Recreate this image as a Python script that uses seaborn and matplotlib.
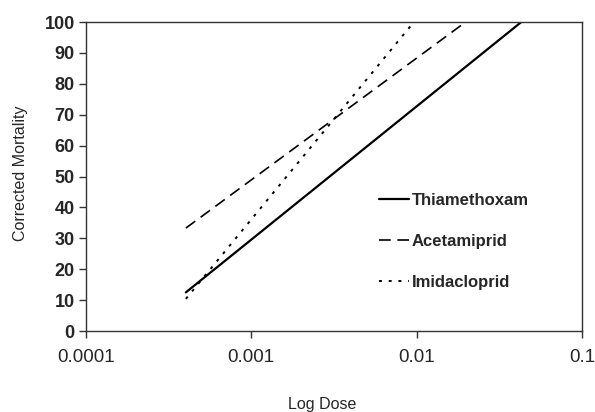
import matplotlib
matplotlib.use("Agg")
import matplotlib.pyplot as plt
import seaborn as sns
import pandas as pd

series = ["Thiamethoxam", "Acetamiprid", "Imidacloprid"]
dose_start = [0.000402, 0.000402, 0.000402]
dose_end = [0.043, 0.0198, 0.0093]
mort_start = [12.5, 33.3, 10.4]
mort_end = [100, 100, 99]
xticks = [0.0001, 0.001, 0.01, 0.1]
xticklabels = ["0.0001", "0.001", "0.01", "0.1"]
yticks = list(range(0, 101, 10))

rows = []
for s, d0, d1, m0, m1 in zip(series, dose_start, dose_end, mort_start, mort_end):
    rows.append({"Series": s, "Dose": d0, "Mortality": m0})
    rows.append({"Series": s, "Dose": d1, "Mortality": m1})
df = pd.DataFrame(rows)

sns.set_style("ticks")
plt.rcParams["font.family"] = ["Liberation Sans", "DejaVu Sans"]

fig = plt.figure(figsize=(5.95, 4.12), dpi=100)
ax = fig.add_axes([0.1445, 0.1966, 0.8335, 0.75])

styles = {
    "Thiamethoxam": dict(lw=1.6, ls="-"),
    "Acetamiprid": dict(lw=1.2, ls=(0, (7, 4))),
    "Imidacloprid": dict(lw=1.4, ls=(0, (1.5, 3.5))),
}
for s in series:
    sub = df[df["Series"] == s]
    sns.lineplot(data=sub, x="Dose", y="Mortality", ax=ax, color="black",
                 linewidth=styles[s]["lw"], linestyle=styles[s]["ls"], label=s)

ax.set_xscale("log")
ax.set_xlim(0.0001, 0.1)
ax.set_ylim(0, 100)
ax.set_xticks(xticks)
ax.set_xticklabels(xticklabels)
ax.xaxis.set_minor_locator(matplotlib.ticker.NullLocator())
ax.set_yticks(yticks)
for lab in ax.get_yticklabels():
    lab.set_fontweight("bold")
    lab.set_fontsize(13)
for lab in ax.get_xticklabels():
    lab.set_fontsize(13.5)
ax.tick_params(axis="both", length=5, width=1, color="#333333", pad=3)
ax.tick_params(axis="x", pad=8)
for sp in ax.spines.values():
    sp.set_visible(True)
    sp.set_linewidth(1.0)
    sp.set_color("#333333")

ax.set_xlabel("Log Dose", fontsize=11.5)
ax.xaxis.set_label_coords(0.476, -0.215)
ax.set_ylabel("Corrected Mortality", fontsize=11.5)
ax.yaxis.set_label_coords(-0.117, 0.51)

leg = ax.legend(loc="center left", bbox_to_anchor=(0.56, 0.29), frameon=False,
                handlelength=1.8, handletextpad=0.2, labelspacing=1.55,
                prop={"weight": "bold", "size": 12})

fig.savefig("out.png", dpi=100)
